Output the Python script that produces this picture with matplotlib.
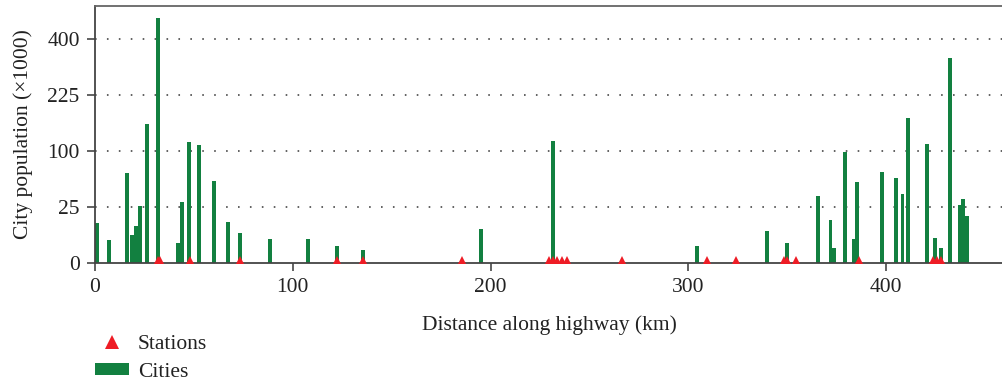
import numpy as np
import matplotlib
matplotlib.use("Agg")
import matplotlib.pyplot as plt
from matplotlib.lines import Line2D
from matplotlib.patches import Patch

# ---- data ----
city_km = [0.8, 7.1, 16.2, 18.7, 20.7, 22.8, 26.3, 31.9, 42.0, 44.0, 47.5, 52.6,
           60.2, 67.3, 73.3, 88.5, 107.7, 122.4, 135.6, 195.2, 231.7, 304.5,
           339.9, 350.0, 365.7, 371.8, 373.8, 378.9, 383.9, 385.4, 397.6, 404.7,
           408.2, 411.2, 420.8, 424.4, 427.9, 432.0, 437.0, 439.0, 440.6]
city_pop = [12.4, 3.9, 63.7, 5.9, 10.4, 25.2, 153, 479, 2.9, 29, 116, 110,
            52.8, 12.9, 7.2, 4.6, 4.3, 2.1, 1.2, 8.8, 117.7, 2.3,
            7.7, 3.2, 35, 14.2, 1.6, 97.3, 4.3, 51.5, 65, 56.8,
            37.2, 167, 112, 5.0, 1.6, 335, 26.1, 31.9, 17]
station_km = [31.6, 33.0, 48.0, 73.3, 122.2, 135.7, 185.6, 229.6, 231.7, 233.7,
              236.2, 238.7, 266.2, 309.6, 324.0, 348.5, 349.8, 354.4, 386.4,
              423.5, 425.5, 427.5]
y_ticks = [0, 25, 100, 225, 400]
x_ticks = [0, 100, 200, 300, 400]

GREEN = "#128040"
RED = "#ee1c25"
GRAY = "#555555"

plt.rcParams['font.family'] = ['Liberation Serif', 'DejaVu Serif']
FS = 15.5

fig = plt.figure(figsize=(10.03, 3.84), dpi=100)
ax = fig.add_axes([95 / 1003, 1 - 262.5 / 384, 1 - 95 / 1003, (262.5 - 5.5) / 384])

ax.set_yscale('function', functions=(lambda v: np.sqrt(np.clip(v, 0, None)),
                                     lambda v: np.square(v)))

ax.bar(city_km, city_pop, width=2.0, color=GREEN, linewidth=0, zorder=2)
ax.plot(station_km, [0] * len(station_km), ls='none', marker='^', ms=10.5,
        color=RED, markeredgewidth=0, zorder=3, clip_on=True)

ax.set_xlim(0, 459)
ax.set_ylim(0, 529)
ax.set_xticks(x_ticks)
ax.set_yticks(y_ticks)
ax.set_yticklabels([str(v) for v in y_ticks])
ax.minorticks_off()

for v in y_ticks[1:]:
    ax.axhline(v, color=GRAY, lw=1.3, dashes=(0.9, 5.7), zorder=1)

ax.spines['right'].set_visible(False)
for s in ['left', 'top', 'bottom']:
    ax.spines[s].set_color('#444444')
    ax.spines[s].set_linewidth(1.3)
ax.spines['top'].set_color('#666666')

ax.tick_params(axis='both', direction='out', length=6, width=1.3, color=GRAY,
               labelsize=FS, labelcolor='#222222', pad=5)

ax.set_xlabel("Distance along highway (km)", fontsize=FS, color='#222222', labelpad=13)
ax.set_ylabel("City population (×1000)", fontsize=FS, color='#222222', labelpad=10)

handles = [Line2D([], [], ls='none', marker='^', ms=9.5, color=RED, markeredgewidth=0),
           Patch(facecolor=GREEN, edgecolor='none')]
fig.legend(handles, ["Stations", "Cities"], loc='upper left',
           bbox_to_anchor=(95 / 1003, 1 - 335 / 384), bbox_transform=fig.transFigure,
           frameon=False, fontsize=FS, handlelength=1.6, handleheight=0.5,
           handletextpad=0.4, labelspacing=0.4, borderpad=0, borderaxespad=0,
           labelcolor='#222222')

fig.savefig("out.png", dpi=100)
